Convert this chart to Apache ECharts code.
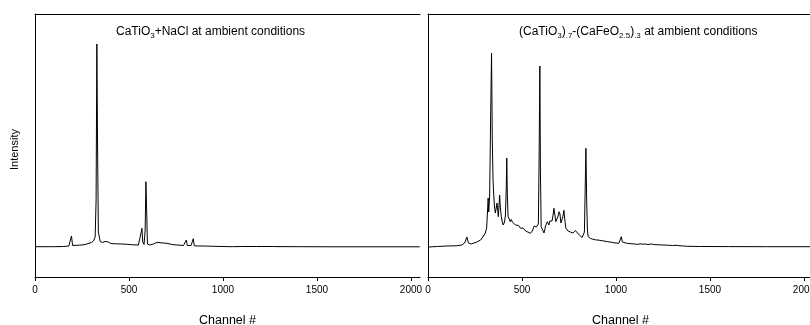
<!DOCTYPE html>
<html>
<head>
<meta charset="utf-8">
<script src="https://cdn.jsdelivr.net/npm/echarts@6/dist/echarts.min.js"></script>
<style>html,body{margin:0;padding:0;background:#fff;}#chart{width:810px;height:325px;}</style>
</head>
<body>
<div id="chart"></div>
<script>
// Tick labels (channel axis)
var xTicks = [0, 500, 1000, 1500, 2000];

// Left panel: CaTiO3 + NaCl (channel, intensity in arbitrary units)
var leftChannels = [0,100,150,180,188,194,200,210,250,276,300,311,320,325,329,333,337,347,360,372,380,388,400,420,427,434,460,490,494,498,520,550,560,565,569,573,580,586,590,594,598,610,630,649,670,702,730,756,790,800,805,810,830,838,842,847,870,900,950,1000,1050,1100,1178,1182,1186,1270,1276,1282,1400,1600,1800,2047];
var leftIntensity = [303,303,305,310,320,410,315,310,320,330,345,360,400,770,2330,1270,450,355,345,355,345,352,337,332,350,332,330,327,340,325,322,320,330,450,487,350,325,470,953,670,330,320,330,347,342,337,325,320,315,330,370,315,315,360,383,312,310,310,307,305,303,305,305,315,304,305,310,304,303,302,302,302];

// Right panel: (CaTiO3).7-(CaFeO2.5).3
var rightChannels = [0,50,100,150,180,195,207,215,230,260,280,295,305,312,317,320,323,328,333,338,342,346,349,353,358,363,367,371,374,378,381,385,390,395,400,407,412,416,419,422,426,432,438,442,445,450,455,460,465,470,475,482,487,492,500,505,510,518,523,530,538,545,550,555,560,565,572,576,580,587,591,595,598,602,606,610,613,617,621,625,630,635,639,643,648,652,656,660,666,670,675,680,686,692,697,702,707,712,718,723,728,733,738,745,750,755,760,765,771,777,784,791,795,800,806,813,820,827,832,836,840,844,848,852,856,860,865,870,877,884,890,900,910,920,930,940,955,965,975,990,1000,1015,1022,1028,1034,1042,1055,1070,1085,1100,1115,1128,1134,1140,1155,1170,1190,1196,1203,1225,1250,1275,1300,1325,1332,1340,1360,1380,1450,1600,1800,2047];
var rightIntensity = [300,305,310,312,320,340,400,340,330,350,370,410,440,490,670,790,650,820,1570,2240,1370,970,850,720,640,690,740,670,603,720,820,690,603,550,520,550,620,870,1190,820,603,580,553,575,560,548,530,542,520,528,505,515,495,487,478,490,470,462,475,450,458,437,446,460,452,510,520,500,490,530,1170,2110,1070,503,520,470,485,440,470,510,530,553,540,520,560,540,575,560,630,687,620,553,550,610,653,630,540,570,610,667,570,490,470,460,470,440,448,435,440,437,465,453,440,430,418,403,395,387,450,870,1287,770,470,403,398,390,385,380,378,370,372,365,368,360,362,356,353,355,348,342,345,337,370,403,350,335,338,335,332,330,326,332,343,328,330,325,330,337,324,322,320,318,315,317,322,312,310,307,305,304,303,303];

function zip(a, b) { var r = []; for (var i = 0; i < a.length; i++) r.push([a[i], b[i]]); return r; }

var FONT = '"Liberation Sans", Arial, sans-serif';
var rich = {
  m: { fontSize: 12, lineHeight: 16, fontFamily: FONT, fontWeight: 'normal', color: '#000' },
  s: { fontSize: 8, lineHeight: 8, verticalAlign: 'bottom', fontFamily: FONT, fontWeight: 'normal', color: '#000' }
};

function xAxisBottom(gi) {
  return {
    type: 'value', gridIndex: gi, min: 0, max: 2048, position: 'bottom',
    axisLine: { show: true, onZero: false, lineStyle: { color: '#000', width: 1 } },
    axisTick: { show: true, length: 4, customValues: xTicks, lineStyle: { color: '#000' } },
    axisLabel: { show: true, customValues: xTicks, margin: 8, fontSize: 10, fontFamily: FONT, color: '#000',
      formatter: function (v) { return String(v); } },
    splitLine: { show: false },
    name: 'Channel #', nameLocation: 'middle', nameGap: 37,
    nameTextStyle: { fontSize: 12.5, fontFamily: FONT, color: '#000' }
  };
}
function xAxisTop(gi) {
  return {
    type: 'value', gridIndex: gi, min: 0, max: 2048, position: 'top',
    axisLine: { show: true, onZero: false, lineStyle: { color: '#000', width: 1 } },
    axisTick: { show: false }, axisLabel: { show: false }, splitLine: { show: false }
  };
}
function yAxis(gi, withName) {
  var a = {
    type: 'value', gridIndex: gi, min: 0, max: 2630,
    axisLine: { show: true, onZero: false, lineStyle: { color: '#000', width: 1 } },
    axisTick: { show: false }, axisLabel: { show: false }, splitLine: { show: false }
  };
  if (withName) {
    a.name = 'Intensity'; a.nameLocation = 'middle'; a.nameGap = 15; a.nameRotate = 90;
    a.nameTextStyle = { fontSize: 11, fontFamily: FONT, color: '#000', padding: [0, 8, 0, 0] };
  }
  return a;
}

var chart = echarts.init(document.getElementById('chart'), null, { renderer: 'canvas' });
chart.setOption({
  backgroundColor: '#fff',
  animation: false,
  title: [
    { left: 116, top: 24, padding: 0, text: '{m|CaTiO}{s|3}{m|+NaCl at ambient conditions}', textStyle: { fontWeight: 'normal', rich: rich } },
    { left: 519, top: 24, padding: 0, text: '{m|(CaTiO}{s|3}{m|)}{s|.7}{m|-(CaFeO}{s|2.5}{m|)}{s|.3}{m| at ambient conditions}', textStyle: { fontWeight: 'normal', rich: rich } }
  ],
  grid: [
    { left: 35, top: 14, width: 385, height: 263, outerBoundsMode: 'none', containLabel: false },
    { left: 428, top: 14, width: 385, height: 263, outerBoundsMode: 'none', containLabel: false }
  ],
  xAxis: [xAxisBottom(0), xAxisTop(0), xAxisBottom(1), xAxisTop(1)],
  yAxis: [yAxis(0, true), yAxis(1, false)],
  series: [
    { type: 'line', xAxisIndex: 0, yAxisIndex: 0, data: zip(leftChannels, leftIntensity), showSymbol: false, lineStyle: { color: '#000', width: 1 }, silent: true },
    { type: 'line', xAxisIndex: 2, yAxisIndex: 1, data: zip(rightChannels, rightIntensity), showSymbol: false, lineStyle: { color: '#000', width: 1 }, silent: true }
  ]
});
</script>
</body>
</html>
